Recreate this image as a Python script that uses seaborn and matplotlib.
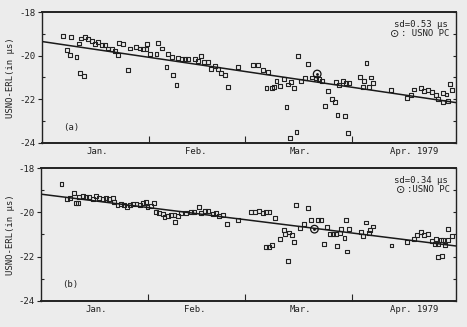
import numpy as np
import pandas as pd
import matplotlib
matplotlib.use("Agg")
import matplotlib.pyplot as plt
import seaborn as sns

# ---- data (day of year 1979, value in microseconds) ----
a_day = [6.1, 8.3, 7.2, 8.1, 10.0, 10.8, 11.3, 12.5, 13.4, 14.4, 11.0, 12.2, 15.4, 16.3, 17.3, 18.3,
         19.2, 20.2, 21.2, 22.1, 22.4, 23.6, 25.0, 25.5, 27.2, 28.4, 29.4, 30.3, 30.5, 31.3, 33.2,
         33.7, 34.7, 36.1, 36.6, 37.6, 38.1, 39.0, 39.5, 40.5, 41.4, 42.4, 44.3, 45.3, 46.1, 47.0,
         48.2, 48.9, 50.1, 51.1, 51.8, 53.0, 54.0, 56.9, 61.3, 62.7, 64.2, 65.6, 68.0, 65.1, 66.6,
         67.2, 69.0, 70.2, 71.4, 72.1, 73.0, 74.3, 75.0, 76.2, 77.2, 70.9, 73.8, 71.9, 78.2, 79.4,
         80.4, 81.1, 83.0, 82.0, 84.0, 84.9, 85.7, 87.8, 85.2, 86.2, 87.2, 88.1, 89.1, 88.8, 92.2,
         93.3, 95.3, 96.0, 93.0, 94.9, 94.1, 101.3, 105.9, 107.1, 107.9, 109.8, 110.8, 112.0, 113.1,
         114.2, 114.9, 116.3, 117.8, 116.3, 117.3, 118.3, 119.0]
a_val = [-19.09, -19.13, -19.74, -19.97, -20.05, -19.44, -19.21, -19.16, -19.25, -19.32, -20.78,
         -20.94, -19.47, -19.36, -19.51, -19.51, -19.67, -19.71, -19.77, -19.97, -19.41, -19.47,
         -20.66, -19.67, -19.62, -19.67, -19.71, -19.71, -19.47, -19.93, -19.93, -19.41, -19.67,
         -20.51, -19.93, -20.08, -20.89, -21.35, -20.12, -20.17, -20.17, -20.17, -20.17, -20.23,
         -20.02, -20.28, -20.29, -20.63, -20.48, -20.63, -20.81, -20.89, -21.43, -20.51, -20.43,
         -20.43, -20.66, -20.74, -21.17, -21.50, -21.50, -21.45, -21.39, -21.07, -21.32, -21.20,
         -21.47, -20.02, -21.17, -21.04, -20.39, -22.34, -23.49, -23.79, -21.00, -21.01, -21.07,
         -21.15, -21.61, -22.31, -22.00, -22.11, -22.72, -22.77, -21.20, -21.35, -21.17, -21.24,
         -21.27, -23.54, -20.97, -21.15, -21.00, -21.24, -21.43, -21.43, -20.35, -21.58, -21.93,
         -21.81, -21.55, -21.47, -21.61, -21.58, -21.67, -21.81, -22.00, -22.11, -22.07, -21.73,
         -21.78, -21.30, -21.58]
a_pc_day = [79.8]
a_pc_val = [-20.84]
a_trend_day = [0, 120]
a_trend_val = [-19.35, -22.15]

b_day = [5.9, 7.6, 8.3, 9.6, 10.0, 10.8, 11.0, 12.0, 13.0, 13.9, 14.9, 16.0, 16.8, 17.8, 18.8, 19.7,
         20.7, 21.2, 22.1, 23.0, 24.1, 24.8, 25.7, 26.7, 27.6, 28.6, 29.4, 30.3, 30.8, 31.8, 32.8,
         33.2, 34.2, 35.2, 35.7, 36.6, 37.6, 38.6, 39.5, 38.8, 40.5, 41.9, 43.4, 44.3, 45.6, 46.3,
         47.3, 48.2, 49.7, 50.6, 51.6, 52.6, 53.8, 56.9, 60.8, 61.8, 63.0, 64.2, 65.1, 66.1, 67.8,
         65.0, 66.0, 66.9, 69.0, 70.2, 70.7, 71.7, 72.6, 71.4, 73.3, 73.8, 77.2, 75.0, 76.0, 78.2,
         80.1, 81.1, 81.8, 82.6, 83.5, 84.4, 85.4, 86.4, 85.6, 87.8, 86.9, 88.2, 89.1, 88.5, 92.7,
         93.1, 94.1, 95.1, 96.0, 94.9, 101.4, 106.0, 107.8, 108.9, 109.8, 110.8, 112.0, 113.1,
         114.4, 115.6, 116.3, 117.8, 113.9, 114.9, 116.8, 114.9, 115.9, 117.8, 119.0]
b_val = [-18.71, -19.41, -19.34, -19.14, -19.59, -19.56, -19.29, -19.26, -19.32, -19.29, -19.40,
         -19.25, -19.37, -19.39, -19.37, -19.39, -19.37, -19.52, -19.67, -19.64, -19.67, -19.77,
         -19.67, -19.64, -19.64, -19.67, -19.59, -19.52, -19.74, -19.71, -19.59, -19.97, -20.04,
         -20.07, -20.19, -20.16, -20.13, -20.12, -20.15, -20.42, -20.01, -20.04, -19.97, -19.97,
         -19.74, -20.01, -19.92, -19.92, -20.09, -20.01, -20.16, -20.13, -20.52, -20.34, -19.97,
         -19.97, -19.92, -20.01, -19.97, -19.97, -20.27, -21.57, -21.55, -21.47, -21.21, -20.79,
         -20.97, -20.91, -21.02, -22.22, -21.32, -19.67, -19.82, -20.72, -20.52, -20.34, -20.34,
         -20.34, -21.42, -20.67, -20.97, -20.97, -20.97, -20.94, -21.51, -21.17, -20.76, -20.34,
         -20.76, -21.77, -20.87, -21.06, -20.46, -20.79, -20.64, -20.94, -21.50, -21.35, -21.21,
         -21.02, -20.87, -21.02, -20.99, -21.28, -21.21, -21.24, -21.24, -21.24, -21.42, -21.42,
         -21.47, -22.02, -21.96, -20.76, -21.09]
b_pc_day = [79.1]
b_pc_val = [-20.76]
b_trend_day = [0, 120]
b_trend_val = [-19.18, -21.52]

month_pos = [16, 44.5, 75, 108]
month_labels = ["Jan.", "Feb.", "Mar.", "Apr. 1979"]
month_bounds = [31, 59, 90]
y_major = [-18, -20, -22, -24]
y_all = [-18, -19, -20, -21, -22, -23, -24]
y_minor = [-19, -21, -23]
sd_texts = ["sd=0.53 \u03bcs", "sd=0.34 \u03bcs"]
pc_texts = [": USNO PC", ":USNO PC"]
pc_sym_x = [0.853, 0.868]
panel_labels = ["(a)", "(b)"]

sns.set_theme(style="white")
plt.rcParams["font.family"] = ["DejaVu Sans Mono", "DejaVu Sans"]
bg = "#ececec"
ink = "#222222"
fig = plt.figure(figsize=(4.67, 3.27), dpi=100, facecolor=bg)
ax_a = fig.add_axes([0.090, 0.563, 0.886, 0.400])
ax_b = fig.add_axes([0.088, 0.080, 0.888, 0.406])

panels = [
    (ax_a, a_day, a_val, a_pc_day, a_pc_val, a_trend_day, a_trend_val),
    (ax_b, b_day, b_val, b_pc_day, b_pc_val, b_trend_day, b_trend_val),
]
for i, (ax, d, v, pd_, pv, td, tv) in enumerate(panels):
    ax.set_facecolor(bg)
    sns.lineplot(x=td, y=tv, ax=ax, color="#1a1a1a", lw=1.1)
    sns.scatterplot(x=d, y=v, ax=ax, marker="s", s=8, facecolor="none",
                    edgecolor=ink, linewidth=0.8)
    sns.scatterplot(x=pd_, y=pv, ax=ax, marker="o", s=30, facecolor="none",
                    edgecolor="#111111", linewidth=0.9)
    sns.scatterplot(x=pd_, y=pv, ax=ax, marker="o", s=4, color="#111111", linewidth=0)
    ax.set_xlim(0, 120)
    ax.set_ylim(-24, -18)
    ax.set_yticks(y_major)
    ax.set_yticklabels([str(t) for t in y_major], fontsize=6.5)
    ax.set_yticks(y_minor, minor=True)
    ax.tick_params(axis="y", which="major", direction="out", length=3, width=0.8,
                   left=True, right=False, pad=1.5, colors=ink)
    ax.tick_params(axis="y", which="minor", direction="in", length=2.5, width=0.8,
                   left=True, right=False)
    ax.set_xticks(month_pos)
    ax.set_xticklabels(month_labels, fontsize=6.5)
    ax.set_xticks(month_bounds, minor=True)
    ax.tick_params(axis="x", which="major", length=0, pad=3, colors=ink)
    ax.tick_params(axis="x", which="minor", direction="in", length=5, width=0.8, bottom=True)
    ax.set_xlabel("")
    ax.set_ylabel("USNO-ERL(in \u03bcs)", fontsize=6.5, labelpad=3, color=ink)
    for side, sp in ax.spines.items():
        sp.set_color(ink)
        sp.set_linewidth(1.0)
    ax.spines["top"].set_linewidth(1.4)
    ax.spines["bottom"].set_linewidth(1.4)

    # inward ticks at every unit on the right side
    sec = ax.secondary_yaxis("right")
    sec.set_yticks(y_all)
    sec.set_yticklabels([])
    sec.tick_params(direction="in", length=2.5, width=0.8, colors=ink)
    sec.spines["right"].set_visible(False)

    ax.text(0.98, 0.905, sd_texts[i], transform=ax.transAxes, ha="right", va="center",
            fontsize=6.5, color=ink)
    ax.text(0.985, 0.835, pc_texts[i], transform=ax.transAxes, ha="right", va="center",
            fontsize=6.5, color=ink)
    ax.text(pc_sym_x[i], 0.835, "\u2299", transform=ax.transAxes, ha="center",
            va="center", fontsize=8, color=ink, family="DejaVu Sans")
    ax.text(0.05, 0.12, panel_labels[i], transform=ax.transAxes, ha="left", va="center",
            fontsize=6.5, color=ink)

fig.savefig("out.png", dpi=100, facecolor=bg)
